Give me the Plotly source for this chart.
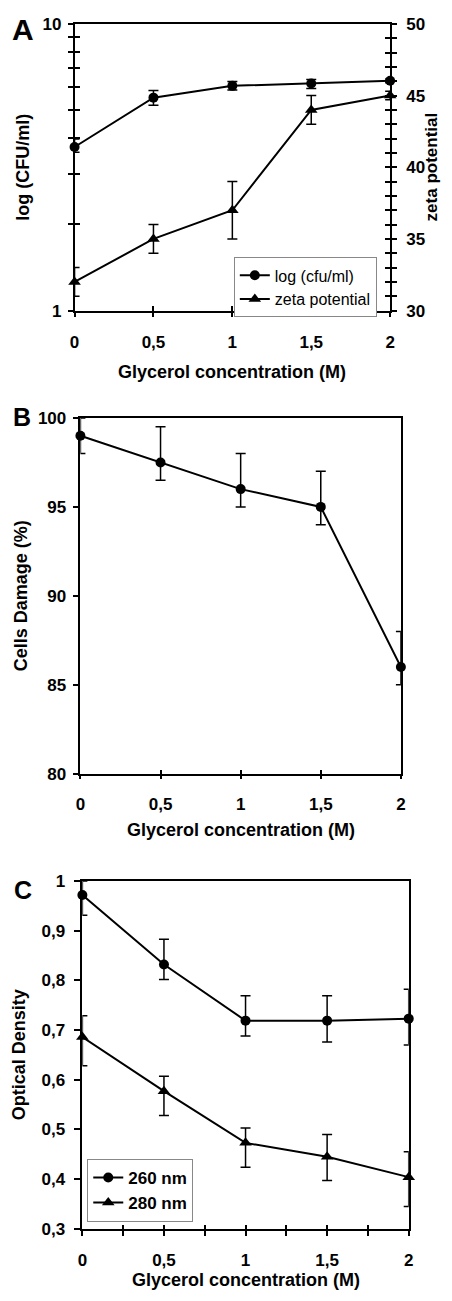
import plotly.graph_objects as go

# ---------------- data ----------------
glycerol = [0, 0.5, 1, 1.5, 2]
x_ticks = [0, 0.5, 1, 1.5, 2]
x_labels = ["0", "0,5", "1", "1,5", "2"]

# Panel A
cfu = [3.72, 5.53, 6.08, 6.2, 6.33]
cfu_err_up = [0.25, 0.33, 0.22, 0.2, 0.1]
cfu_err_dn = [0.15, 0.33, 0.2, 0.25, 0.1]
zeta = [32, 35, 37, 44, 45]
zeta_err = [1, 1, 2, 1, 0.3]
cfu_ticks = [1, 2, 3, 4, 5, 6, 7, 8, 9, 10]
cfu_labels = ["1", "", "", "", "", "", "", "", "", "10"]
zeta_ticks = list(range(30, 51))
zeta_labels = [str(v) if v % 5 == 0 else "" for v in zeta_ticks]

# Panel B
damage = [99, 97.5, 96, 95, 86]
damage_up = [1, 2, 2, 2, 2]
damage_dn = [1, 1, 1, 1, 1]
damage_ticks = [80, 85, 90, 95, 100]
damage_labels = ["80", "85", "90", "95", "100"]

# Panel C
od260 = [0.972, 0.832, 0.719, 0.719, 0.723]
od260_up = [0.028, 0.051, 0.05, 0.05, 0.059]
od260_dn = [0.041, 0.030, 0.031, 0.043, 0.053]
od280 = [0.686, 0.577, 0.473, 0.445, 0.404]
od280_up = [0.043, 0.030, 0.030, 0.045, 0.051]
od280_dn = [0.058, 0.049, 0.049, 0.048, 0.059]
od_ticks = [0.3, 0.4, 0.5, 0.6, 0.7, 0.8, 0.9, 1.0]
od_labels = ["0,3", "0,4", "0,5", "0,6", "0,7", "0,8", "0,9", "1"]
c_x_ticks = [0, 0.25, 0.5, 0.75, 1, 1.25, 1.5, 1.75, 2]
c_x_labels = ["0", "", "0,5", "", "1", "", "1,5", "", "2"]

FONT = "Liberation Sans, Arial, sans-serif"
PAGE_MARGIN = 8            # default body margin of the html page
W, H = 452 - 2 * PAGE_MARGIN, 1301 - 2 * PAGE_MARGIN


def err(up, dn):
    return dict(type="data", symmetric=False, array=up, arrayminus=dn,
                color="black", thickness=1.5, width=5)


fig = go.Figure()

# Panel A traces
fig.add_trace(go.Scatter(x=glycerol, y=cfu, mode="lines+markers", name="log (cfu/ml)",
                         line=dict(color="black", width=2),
                         marker=dict(symbol="circle", size=10, color="black"),
                         error_y=err(cfu_err_up, cfu_err_dn), cliponaxis=False,
                         xaxis="x", yaxis="y", legend="legend"))
fig.add_trace(go.Scatter(x=glycerol, y=zeta, mode="lines+markers", name="zeta potential",
                         line=dict(color="black", width=2),
                         marker=dict(symbol="triangle-up", size=11, color="black"),
                         error_y=err(zeta_err, zeta_err), cliponaxis=False,
                         xaxis="x", yaxis="y2", legend="legend"))
# Panel B
fig.add_trace(go.Scatter(x=glycerol, y=damage, mode="lines+markers", showlegend=False,
                         line=dict(color="black", width=2),
                         marker=dict(symbol="circle", size=10, color="black"),
                         error_y=err(damage_up, damage_dn), cliponaxis=False,
                         xaxis="x2", yaxis="y3"))
# Panel C
fig.add_trace(go.Scatter(x=glycerol, y=od260, mode="lines+markers", name="260 nm",
                         line=dict(color="black", width=2),
                         marker=dict(symbol="circle", size=10, color="black"),
                         error_y=err(od260_up, od260_dn), cliponaxis=False,
                         xaxis="x3", yaxis="y4", legend="legend2"))
fig.add_trace(go.Scatter(x=glycerol, y=od280, mode="lines+markers", name="280 nm",
                         line=dict(color="black", width=2),
                         marker=dict(symbol="triangle-up", size=11, color="black"),
                         error_y=err(od280_up, od280_dn), cliponaxis=False,
                         xaxis="x3", yaxis="y4", legend="legend2"))

# dummy traces to instantiate overlay (inside-tick) axes
for xa, ya in [("x4", "y"), ("x", "y5"), ("x", "y6"), ("x5", "y3"), ("x6", "y4")]:
    fig.add_trace(go.Scatter(x=[None], y=[None], xaxis=xa, yaxis=ya, showlegend=False,
                             hoverinfo="skip"))


def fx(px):
    return (px - PAGE_MARGIN) / W


def fy(py):
    return 1 - (py - PAGE_MARGIN) / H


tickfont = dict(family=FONT, size=17, color="black", weight="bold")
base = dict(showgrid=False, zeroline=False, linecolor="black", tickcolor="black",
            tickwidth=1.5, tickfont=tickfont)

A_x = [fx(71), fx(394)]
A_y = [fy(306), fy(15)]
B_x = [fx(77), fx(405)]
B_y = [fy(776), fy(415)]
C_x = [fx(79), fx(413)]
C_y = [fy(1238), fy(885)]

layout_axes = dict(
    xaxis=dict(base, domain=A_x, anchor="y", range=[0, 2], tickvals=x_ticks, ticktext=x_labels,
               ticks="outside", ticklen=5, showline=True, linewidth=1.5, mirror=True,
               ticklabelstandoff=10),
    xaxis4=dict(base, overlaying="x", anchor="y", range=[0, 2], tickvals=x_ticks,
                ticks="inside", ticklen=5, showticklabels=False, showline=False),
    yaxis=dict(base, domain=A_y, anchor="x", type="log", range=[0, 1], tickvals=cfu_ticks,
               ticktext=cfu_labels, ticks="outside", ticklen=5, showline=True, linewidth=1.5,
               ticklabelstandoff=3),
    yaxis5=dict(base, overlaying="y", anchor="x", type="log", range=[0, 1], tickvals=cfu_ticks,
                ticks="inside", ticklen=5, showticklabels=False, showline=False),
    yaxis2=dict(base, overlaying="y", anchor="x", side="right", range=[30, 50],
                tickvals=zeta_ticks, ticktext=zeta_labels, ticks="outside", ticklen=5,
                showline=True, linewidth=1.5, ticklabelstandoff=6),
    yaxis6=dict(base, overlaying="y", anchor="x", side="right", range=[30, 50],
                tickvals=zeta_ticks, ticks="inside", ticklen=5, showticklabels=False,
                showline=False),
    xaxis2=dict(base, domain=B_x, anchor="y3", range=[0, 2], tickvals=x_ticks, ticktext=x_labels,
                ticks="outside", ticklen=4, showline=True, linewidth=1.5, mirror=True,
                ticklabelstandoff=10),
    xaxis5=dict(base, overlaying="x2", anchor="y3", range=[0, 2], tickvals=x_ticks,
                ticks="inside", ticklen=4, showticklabels=False, showline=False),
    yaxis3=dict(base, domain=B_y, anchor="x2", range=[80, 100], tickvals=damage_ticks,
                ticktext=damage_labels, ticks="outside", ticklen=6, showline=True,
                linewidth=1.5, mirror=True, ticklabelstandoff=3),
    xaxis3=dict(base, domain=C_x, anchor="y4", range=[0, 2], tickvals=c_x_ticks,
                ticktext=c_x_labels, ticks="outside", ticklen=5, showline=True, linewidth=1.5,
                mirror=True, ticklabelstandoff=10),
    xaxis6=dict(base, overlaying="x3", anchor="y4", range=[0, 2], tickvals=c_x_ticks,
                ticks="inside", ticklen=4, showticklabels=False, showline=False),
    yaxis4=dict(base, domain=C_y, anchor="x3", range=[0.3, 1.0], tickvals=od_ticks,
                ticktext=od_labels, ticks="outside", ticklen=7, showline=True, linewidth=1.5,
                mirror=True, ticklabelstandoff=5),
)

title_font = dict(family=FONT, size=18, color="black", weight="bold")


def title(text, xref, yref, x, y, xshift=0, yshift=0, angle=0, size=18):
    return dict(text=text, xref=xref, yref=yref, x=x, y=y, xshift=xshift, yshift=yshift,
                textangle=angle, showarrow=False, font=dict(title_font, size=size),
                xanchor="center", yanchor="middle")


annotations = [
    title("Glycerol concentration (M)", "x domain", "y domain", 0.5, 0, yshift=-61),
    title("log (CFU/ml)", "x domain", "y domain", 0, 0.5, xshift=-51, angle=-90),
    title("zeta potential", "x domain", "y domain", 1, 0.5, xshift=41, angle=-90, size=17),
    title("Glycerol concentration (M)", "x2 domain", "y3 domain", 0.5, 0, yshift=-56),
    title("Cells Damage (%)", "x2 domain", "y3 domain", 0, 0.5, xshift=-60, angle=-90),
    title("Glycerol concentration (M)", "x3 domain", "y4 domain", 0.5, 0, yshift=-51),
    title("Optical Density", "x3 domain", "y4 domain", 0, 0.5, xshift=-63, angle=-90),
]
for letter, cx, cy, size in [("A", 18, 21, 30), ("B", 17, 413.5, 25), ("C", 18, 894, 25)]:
    annotations.append(dict(text=letter, xref="paper", yref="paper", x=fx(cx), y=fy(cy),
                            showarrow=False, xanchor="center", yanchor="middle",
                            font=dict(family=FONT, size=size, color="black", weight="bold")))

fig.update_layout(
    width=W, height=H, autosize=False,
    margin=dict(l=0, r=0, t=0, b=0),
    paper_bgcolor="white", plot_bgcolor="white",
    font=dict(family=FONT, color="black"),
    annotations=annotations,
    legend=dict(x=fx(234), y=fy(252), xanchor="left", yanchor="top",
                bgcolor="white", bordercolor="#888888", borderwidth=1,
                font=dict(family=FONT, size=16, color="black"),
                tracegroupgap=0, itemwidth=30),
    legend2=dict(x=fx(84), y=fy(1167), xanchor="left", yanchor="top",
                 bgcolor="white", bordercolor="#888888", borderwidth=1,
                 font=dict(family=FONT, size=17, color="black", weight="bold"),
                 tracegroupgap=0, itemwidth=30),
    **layout_axes,
)

fig.write_html("out.html")
